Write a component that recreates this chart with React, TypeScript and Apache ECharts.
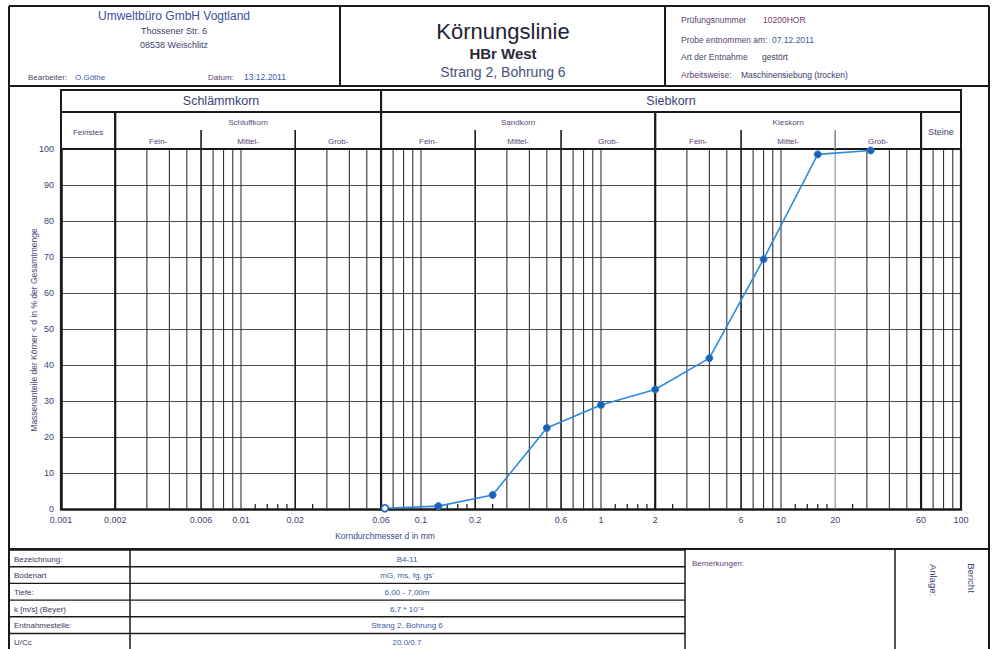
import React, { useEffect, useRef } from "react";
import * as echarts from "echarts";

// ---- data ----
const sieveSizes = [0.063, 0.125, 0.25, 0.5, 1, 2, 4, 8, 16, 31.5];
const passingPercent = [0.2, 0.8, 3.9, 22.5, 28.9, 33.2, 41.9, 69.4, 98.5, 99.6];

const xTickLabels = [0.001, 0.002, 0.006, 0.01, 0.02, 0.06, 0.1, 0.2, 0.6, 1, 2, 6, 10, 20, 60, 100];

const majorLines = [0.001, 0.002, 0.06, 2, 60, 100];
const boundaryLines = [0.006, 0.02, 0.2, 0.6, 6];
const grayLines = [20];
const thinLines = [
  0.003, 0.004, 0.005, 0.007, 0.008, 0.009, 0.01, 0.03, 0.04, 0.05, 0.07, 0.08, 0.09, 0.1,
  0.3, 0.4, 0.5, 0.7, 0.8, 0.9, 1, 3, 4, 5, 7, 8, 9, 10, 30, 40, 50, 70, 80, 90,
];
const shortTicks = [
  0.012, 0.014, 0.016, 0.018, 0.025, 0.12, 0.14, 0.16, 0.18, 0.25, 1.2, 1.4, 1.6, 1.8, 2.5,
  12, 14, 16, 18, 25,
];

const mainBandNames = ["Schlämmkorn", "Siebkorn"];
const mainBandBounds = [0.001, 0.06, 100];
const groupNames = ["Feinstes", "Schluffkorn", "Sandkorn", "Kieskorn", "Steine"];
const groupBounds = [0.001, 0.002, 0.06, 2, 60, 100];
const fractionNames = ["Fein-", "Mittel-", "Grob-"];
const siltBounds = [0.002, 0.006, 0.02, 0.06];
const sandBounds = [0.06, 0.2, 0.6, 2];
const gravelBounds = [2, 6, 20, 60];

const tableLabels = ["Bezeichnung:", "Bodenart", "Tiefe:", "k [m/s] (Beyer)", "Entnahmestelle:", "U/Cc"];
const tableValues = ["B4-11", "mG, ms, fg, gs'", "6,00 - 7,00m", "6.7 * 10⁻⁴", "Strang 2, Bohrung 6", "20.0/0.7"];

const FONT = "'Liberation Sans', Arial, sans-serif";
const INK = "#1a1a1a";
const LABEL = "#3d4478";
const VALUE = "#3a5aa8";

function ln(x1: number, y1: number, x2: number, y2: number, w = 1.5, c = INK) {
  return { type: "line", silent: true, shape: { x1, y1, x2, y2 }, style: { stroke: c, lineWidth: w } };
}
function tx(
  x: number,
  y: number,
  text: string,
  size: number,
  fill: string,
  align = "left",
  extra: any = {},
  rotation = 0
) {
  return {
    type: "text",
    silent: true,
    x,
    y,
    rotation,
    style: {
      text,
      fill,
      fontSize: size,
      fontFamily: FONT,
      textAlign: align,
      align,
      textVerticalAlign: "middle",
      verticalAlign: "middle",
      ...extra,
    },
  };
}

export default function App() {
  const ref = useRef<HTMLDivElement>(null);

  useEffect(() => {
    if (!ref.current) return;
    const chart = echarts.init(ref.current, null, { renderer: "svg" });

    const gridData: number[][] = [];
    thinLines.forEach((v) => gridData.push([v, 0, 0]));
    grayLines.forEach((v) => gridData.push([v, 0, 3]));
    boundaryLines.forEach((v) => gridData.push([v, 0, 1]));
    majorLines.forEach((v) => gridData.push([v, 0, 2]));
    shortTicks.forEach((v) => gridData.push([v, 0, 4]));

    const headerItems: { from: number; to: number; row: number; label: string; divider: boolean }[] = [];
    mainBandNames.forEach((n, i) =>
      headerItems.push({ from: mainBandBounds[i], to: mainBandBounds[i + 1], row: 0, label: n, divider: false })
    );
    groupNames.forEach((n, i) =>
      headerItems.push({
        from: groupBounds[i],
        to: groupBounds[i + 1],
        row: n === "Feinstes" || n === "Steine" ? 1 : 2,
        label: n,
        divider: false,
      })
    );
    [siltBounds, sandBounds, gravelBounds].forEach((b) =>
      fractionNames.forEach((n, i) =>
        headerItems.push({ from: b[i], to: b[i + 1], row: 3, label: n, divider: i > 0 })
      )
    );

    const option: any = {
      animation: false,
      backgroundColor: "#ffffff",
      grid: { left: 61, right: 34, top: 149, bottom: 140 },
      xAxis: {
        type: "log",
        logBase: 10,
        min: 0.001,
        max: 100,
        axisLine: { show: true, lineStyle: { color: INK, width: 2.5 } },
        axisTick: { show: false },
        axisLabel: { show: false },
        splitLine: { show: false },
      },
      yAxis: {
        type: "value",
        min: 0,
        max: 100,
        interval: 10,
        axisLine: { show: true, lineStyle: { color: INK, width: 2.5 } },
        axisTick: { show: false },
        axisLabel: { color: LABEL, fontSize: 9, fontFamily: FONT, margin: 7 },
        splitLine: { show: true, lineStyle: { color: "#4a4a4a", width: 1 } },
      },
      series: [
        {
          type: "custom",
          name: "grid",
          z: 1,
          silent: true,
          encode: { x: 0, y: 1 },
          data: gridData,
          renderItem: (params: any, api: any) => {
            const x = api.value(0);
            const kind = api.value(2);
            const top = api.coord([x, 100]);
            const bot = api.coord([x, 0]);
            if (kind === 4) {
              return {
                type: "line",
                shape: { x1: bot[0], y1: bot[1], x2: bot[0], y2: bot[1] - 5 },
                style: { stroke: INK, lineWidth: 1.2 },
              };
            }
            const w = kind === 2 ? 2.2 : kind === 1 ? 1.6 : 1.1;
            const c = kind === 3 ? "#8a8a8a" : kind === 0 ? "#333" : INK;
            return {
              type: "line",
              shape: { x1: top[0], y1: top[1], x2: bot[0], y2: bot[1] },
              style: { stroke: c, lineWidth: w },
            };
          },
        },
        {
          type: "custom",
          name: "xlabels",
          z: 2,
          silent: true,
          encode: { x: 0, y: 1 },
          data: xTickLabels.map((v) => [v, 0]),
          renderItem: (params: any, api: any) => {
            const v = xTickLabels[params.dataIndex];
            const p = api.coord([v, 0]);
            return {
              type: "text",
              x: p[0],
              y: p[1] + 11,
              style: {
                text: String(v),
                fill: LABEL,
                fontSize: 9,
                fontFamily: FONT,
                textAlign: "center",
                align: "center",
                textVerticalAlign: "middle",
                verticalAlign: "middle",
              },
            };
          },
        },
        {
          type: "custom",
          name: "header",
          z: 3,
          silent: true,
          encode: { x: 0, y: 1 },
          data: headerItems.map((h) => [h.from, 100, h.to]),
          renderItem: (params: any, api: any) => {
            const h = headerItems[params.dataIndex];
            const a = api.coord([h.from, 100]);
            const b = api.coord([h.to, 100]);
            const gt = a[1];
            const cx = (a[0] + b[0]) / 2;
            const children: any[] = [];
            const tstyle = (text: string, size: number, fill: string, bold = false) => ({
              text,
              fill,
              fontSize: size,
              fontWeight: bold ? "bold" : "normal",
              fontFamily: FONT,
              textAlign: "center",
              align: "center",
              textVerticalAlign: "middle",
              verticalAlign: "middle",
            });
            if (h.row === 0) {
              children.push({
                type: "rect",
                shape: { x: a[0], y: gt - 59, width: b[0] - a[0], height: 22 },
                style: { fill: "none", stroke: INK, lineWidth: 2 },
              });
              children.push({ type: "text", x: cx, y: gt - 48, style: tstyle(h.label, 12.5, "#3c4276") });
            } else if (h.row === 1 || h.row === 2) {
              children.push({
                type: "rect",
                shape: { x: a[0], y: gt - 37, width: b[0] - a[0], height: 37 },
                style: { fill: "none", stroke: INK, lineWidth: 2 },
              });
              if (h.row === 1) {
                children.push({
                  type: "text",
                  x: cx,
                  y: gt - 17,
                  style: tstyle(h.label, h.label === "Steine" ? 9 : 8, "#4a4470"),
                });
              } else {
                children.push({ type: "text", x: cx, y: gt - 27, style: tstyle(h.label, 8, "#5a4a7a") });
              }
            } else {
              if (h.divider) {
                children.push({
                  type: "line",
                  shape: { x1: a[0], y1: gt - 19, x2: a[0], y2: gt },
                  style: { stroke: h.from === 20 ? "#8a8a8a" : INK, lineWidth: 1.6 },
                });
              }
              children.push({ type: "text", x: cx, y: gt - 8, style: tstyle(h.label, 8, "#5a3f72") });
            }
            return { type: "group", children };
          },
        },
        {
          type: "line",
          name: "Körnungslinie",
          z: 10,
          data: sieveSizes.map((x, i) =>
            i === 0
              ? { value: [x, passingPercent[i]], itemStyle: { color: "#ffffff", borderColor: "#1d5fb0", borderWidth: 1.6 } }
              : { value: [x, passingPercent[i]] }
          ),
          symbol: "circle",
          symbolSize: 7,
          lineStyle: { color: "#2b8be0", width: 1.6 },
          itemStyle: { color: "#1d5fb0", borderColor: "#2a7fd4", borderWidth: 1 },
        },
      ],
      graphic: {
        elements: [
          ln(9, 6, 989, 6, 2),
          ln(9, 86, 989, 86, 2),
          ln(9, 6, 9, 649, 2),
          ln(340, 6, 340, 86, 2),
          ln(665, 6, 665, 86, 2),
          ln(989, 6, 989, 649, 2),
          tx(174, 16, "Umweltbüro GmbH Vogtland", 12, "#3a4f9a", "center"),
          tx(174, 31, "Thossener Str. 6", 9, "#3d3d6a", "center"),
          tx(174, 45, "08538 Weischlitz", 9, "#3d3d6a", "center"),
          tx(28, 77, "Bearbeiter:", 8, "#4a4a6a"),
          tx(75, 77, "O.Göthe", 8, VALUE),
          tx(208, 77, "Datum:", 8, "#5a3f72"),
          tx(244, 77, "13.12.2011", 8.5, VALUE),
          tx(503, 31, "Körnungslinie", 22, "#222233", "center"),
          tx(503, 53, "HBr West", 15, "#2a2a3a", "center", { fontWeight: "bold" }),
          tx(503, 72, "Strang 2, Bohrung 6", 14, "#46507e", "center"),
          tx(681, 20, "Prüfungsnummer", 8.5, "#5a3f72"),
          tx(763, 20, "10200HOR", 8.5, "#7a3a6a"),
          tx(681, 40, "Probe entnommen am:", 8.5, "#5a3f72"),
          tx(772, 40, "07.12.2011", 8.5, VALUE),
          tx(681, 57, "Art der Entnahme", 8.5, "#4a4a6a"),
          tx(762, 57, "gestört", 8.5, "#3a3a5a"),
          tx(681, 75, "Arbeitsweise:", 8.5, "#5a3f72"),
          tx(741, 75, "Maschinensiebung (trocken)", 8.5, "#3a3a6a"),
          tx(34, 330, "Massenanteile der Körner < d in % der Gesamtmenge", 8.5, "#4a4a7a", "center", {}, Math.PI / 2),
          tx(385, 536, "Korndurchmesser d in mm", 8.5, "#3a4a8a", "center"),
          ln(961, 89, 961, 149, 2),
          ln(9, 549, 989, 549, 2),
          ...tableLabels.map((_, i) => ln(9, 550 + i * 16.7, 685, 550 + i * 16.7, 1.4)),
          ln(130, 550, 130, 649, 1.5),
          ln(685, 550, 685, 649, 1.5),
          ln(895, 550, 895, 649, 1.5),
          ...tableLabels.map((t, i) => tx(14, 559 + i * 16.7, t, 8, "#3a3a5a")),
          ...tableValues.map((t, i) => tx(407, 559 + i * 16.7, t, 8, VALUE, "center")),
          tx(692, 563, "Bemerkungen:", 8, "#5a3f72"),
          tx(933, 580, "Anlage:", 9.5, "#3d4478", "center", {}, -Math.PI / 2),
          tx(971, 578, "Bericht", 9.5, "#3d4478", "center", {}, -Math.PI / 2),
        ],
      },
    };

    chart.setOption(option);
    return () => chart.dispose();
  }, []);

  return (
    <div
      ref={ref}
      style={{ position: "fixed", left: 0, top: 0, width: 995, height: 649, background: "#fff" }}
    />
  );
}
